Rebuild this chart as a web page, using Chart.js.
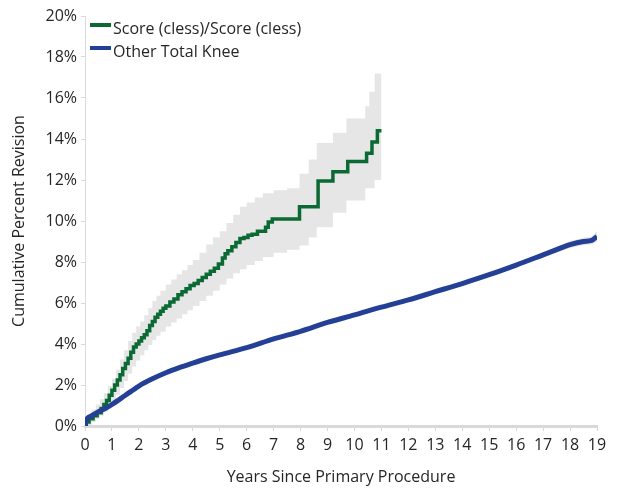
<!DOCTYPE html>
<html>
<head>
<meta charset="utf-8">
<script src="https://cdn.jsdelivr.net/npm/chart.js@4.4.1/dist/chart.umd.min.js"></script>
<style>
    html, body { margin: 0; padding: 0; background: #ffffff; }
    #wrap { width: 620px; height: 490px; }
</style>
</head>
<body>
<div id="wrap"><canvas id="revision-chart" width="620" height="490"></canvas></div>
<script>
// Score (cless)/Score (cless): Kaplan-Meier steps, years vs cumulative %
const greenYears = [0, 0.05, 0.15, 0.3, 0.45, 0.6, 0.7, 0.8, 0.9, 1.0, 1.1, 1.2, 1.3, 1.4, 1.5, 1.6, 1.7, 1.8, 1.9, 2.0, 2.1, 2.2, 2.3, 2.4, 2.5, 2.6, 2.7, 2.8, 2.9, 3.0, 3.15, 3.3, 3.45, 3.6, 3.75, 3.9, 4.05, 4.2, 4.35, 4.5, 4.65, 4.8, 4.95, 5.1, 5.2, 5.3, 5.45, 5.6, 5.75, 5.9, 6.05, 6.2, 6.4, 6.7, 6.8, 6.95, 7.96, 8.65, 9.2, 9.75, 10.45, 10.65, 10.85, 11.0];
const greenPct = [0, 0.2, 0.35, 0.5, 0.65, 0.85, 1.05, 1.25, 1.5, 1.75, 2.0, 2.25, 2.5, 2.8, 3.05, 3.3, 3.6, 3.85, 4.0, 4.15, 4.3, 4.45, 4.65, 4.9, 5.1, 5.3, 5.45, 5.6, 5.75, 5.85, 6.05, 6.2, 6.4, 6.55, 6.7, 6.85, 6.95, 7.1, 7.25, 7.4, 7.55, 7.7, 7.9, 8.2, 8.4, 8.55, 8.75, 8.95, 9.15, 9.2, 9.3, 9.35, 9.5, 9.7, 9.95, 10.1, 10.7, 11.95, 12.4, 12.9, 13.3, 13.85, 14.4, 14.4];

// its confidence band
const greenBandYears = [0, 0.1, 0.25, 0.4, 0.55, 0.7, 0.85, 1.0, 1.15, 1.3, 1.45, 1.6, 1.75, 1.9, 2.05, 2.2, 2.35, 2.5, 2.65, 2.8, 3.0, 3.2, 3.4, 3.6, 3.8, 4.0, 4.25, 4.5, 4.75, 5.0, 5.25, 5.5, 5.75, 6.0, 6.3, 6.6, 7.0, 7.5, 7.96, 8.3, 8.6, 9.2, 9.7, 10.4, 10.55, 10.75, 11.0];
const greenLower = [0, 0.05, 0.2, 0.35, 0.5, 0.7, 0.95, 1.2, 1.5, 1.85, 2.2, 2.55, 2.9, 3.2, 3.45, 3.7, 3.95, 4.2, 4.4, 4.6, 4.85, 5.05, 5.25, 5.45, 5.65, 5.85, 6.1, 6.35, 6.6, 6.9, 7.2, 7.45, 7.65, 7.85, 8.05, 8.25, 8.45, 8.6, 8.8, 9.2, 9.7, 10.4, 11.0, 11.6, 11.6, 12.0, 12.0];
const greenUpper = [0, 0.45, 0.8, 1.05, 1.3, 1.6, 1.95, 2.3, 2.75, 3.25, 3.7, 4.15, 4.55, 4.85, 5.1, 5.4, 5.75, 6.1, 6.35, 6.6, 6.9, 7.15, 7.4, 7.6, 7.85, 8.1, 8.45, 8.85, 9.2, 9.5, 9.9, 10.3, 10.7, 10.9, 11.15, 11.35, 11.5, 11.6, 12.3, 13.0, 13.8, 14.3, 15.0, 15.6, 16.3, 17.2, 17.2];

// Other Total Knee
const blueYears = [0, 0.05, 0.25, 0.5, 0.75, 1, 1.5, 2, 2.5, 3, 3.5, 4, 4.5, 5, 6, 7, 8, 9, 10, 11, 12, 13, 14, 15, 16, 17, 17.5, 18, 18.5, 18.8, 19];
const bluePct = [0, 0.3, 0.5, 0.7, 0.85, 1.05, 1.5, 1.95, 2.3, 2.6, 2.85, 3.07, 3.28, 3.47, 3.82, 4.25, 4.62, 5.05, 5.42, 5.8, 6.15, 6.55, 6.95, 7.38, 7.85, 8.35, 8.6, 8.85, 9.0, 9.05, 9.25];

const blueBandYears = [13, 14, 15, 16, 17, 17.5, 18, 18.5, 18.8, 19];
const blueLower = [6.5, 6.88, 7.3, 7.75, 8.22, 8.45, 8.68, 8.82, 8.85, 9.0];
const blueUpper = [6.6, 7.02, 7.46, 7.95, 8.48, 8.75, 9.02, 9.18, 9.25, 9.5];

const xTicks = [0, 1, 2, 3, 4, 5, 6, 7, 8, 9, 10, 11, 12, 13, 14, 15, 16, 17, 18, 19];
const yTicks = [0, 2, 4, 6, 8, 10, 12, 14, 16, 18, 20];

const seriesNames = ["Score (cless)/Score (cless)", "Other Total Knee"];
const GREEN = "#0b6a34";
const BLUE = "#243f96";
const BAND = "#e6e6e6";
const TEXT = "#262626";
const FONT = "'Open Sans', 'Noto Sans', sans-serif";

function points(xs, ys) {
    return xs.map((x, i) => ({ x: x, y: ys[i] }));
}

function bandSet(xs, ys, fill, stepped) {
    return {
        data: points(xs, ys),
        borderWidth: 0,
        borderColor: BAND,
        backgroundColor: BAND,
        pointRadius: 0,
        stepped: stepped,
        fill: fill,
        order: 10,
    };
}

// two-line legend in the top-left corner of the plot
const cornerLegend = {
    id: "cornerLegend",
    afterDraw(chart) {
        const { ctx, chartArea } = chart;
        const colors = [GREEN, BLUE];
        ctx.save();
        ctx.font = "16px " + FONT;
        ctx.textBaseline = "middle";
        seriesNames.forEach((name, i) => {
            const y = chartArea.top + 9 + i * 23;
            ctx.fillStyle = colors[i];
            ctx.fillRect(chartArea.left + 5, y - 2, 21, 4);
            ctx.fillStyle = TEXT;
            ctx.fillText(name, chartArea.left + 28, y + 4);
        });
        ctx.restore();
    },
};

const chart = new Chart(document.getElementById("revision-chart"), {
    type: "line",
    data: {
        datasets: [
            bandSet(greenBandYears, greenLower, false, true),
            bandSet(greenBandYears, greenUpper, "-1", true),
            bandSet(blueBandYears, blueLower, false, false),
            bandSet(blueBandYears, blueUpper, "-1", false),
            {
                label: seriesNames[0],
                data: points(greenYears, greenPct),
                borderColor: GREEN,
                borderWidth: 3.5,
                pointRadius: 0,
                stepped: true,
                fill: false,
                order: 2,
            },
            {
                label: seriesNames[1],
                data: points(blueYears, bluePct),
                borderColor: BLUE,
                borderWidth: 5,
                pointRadius: 0,
                cubicInterpolationMode: "monotone",
                fill: false,
                order: 1,
            },
        ],
    },
    options: {
        responsive: false,
        animation: false,
        layout: { padding: { left: 0, right: 23, top: 16, bottom: 0 } },
        plugins: {
            legend: { display: false },
            tooltip: { enabled: false },
        },
        scales: {
            x: {
                type: "linear",
                min: 0,
                max: 19,
                afterBuildTicks: (scale) => {
                    scale.ticks = xTicks.map((v) => ({ value: v }));
                },
                afterFit: (scale) => {
                    scale.height = 64;
                },
                ticks: {
                    color: TEXT,
                    font: { family: FONT, size: 16 },
                    padding: 5,
                    maxRotation: 0,
                    autoSkip: false,
                },
                grid: {
                    drawOnChartArea: false,
                    drawTicks: true,
                    tickLength: 5,
                    color: "#d9d9d9",
                },
                border: { color: "#d9d9d9", width: 3 },
                title: {
                    display: true,
                    text: "Years Since Primary Procedure",
                    color: TEXT,
                    font: { family: FONT, size: 16 },
                    padding: { top: 0, bottom: 3 },
                },
            },
            y: {
                min: 0,
                max: 20,
                afterBuildTicks: (scale) => {
                    scale.ticks = yTicks.map((v) => ({ value: v }));
                },
                afterFit: (scale) => {
                    scale.width = 85;
                },
                ticks: {
                    color: TEXT,
                    font: { family: FONT, size: 16 },
                    padding: 4,
                    callback: (v) => v + "%",
                },
                grid: {
                    drawOnChartArea: false,
                    drawTicks: true,
                    tickLength: 4,
                    color: "#d9d9d9",
                },
                border: { color: "#d9d9d9", width: 1 },
                title: {
                    display: true,
                    text: "Cumulative Percent Revision",
                    color: TEXT,
                    font: { family: FONT, size: 16 },
                    padding: { top: 10, bottom: 0 },
                },
            },
        },
    },
    plugins: [cornerLegend],
});
</script>
</body>
</html>
